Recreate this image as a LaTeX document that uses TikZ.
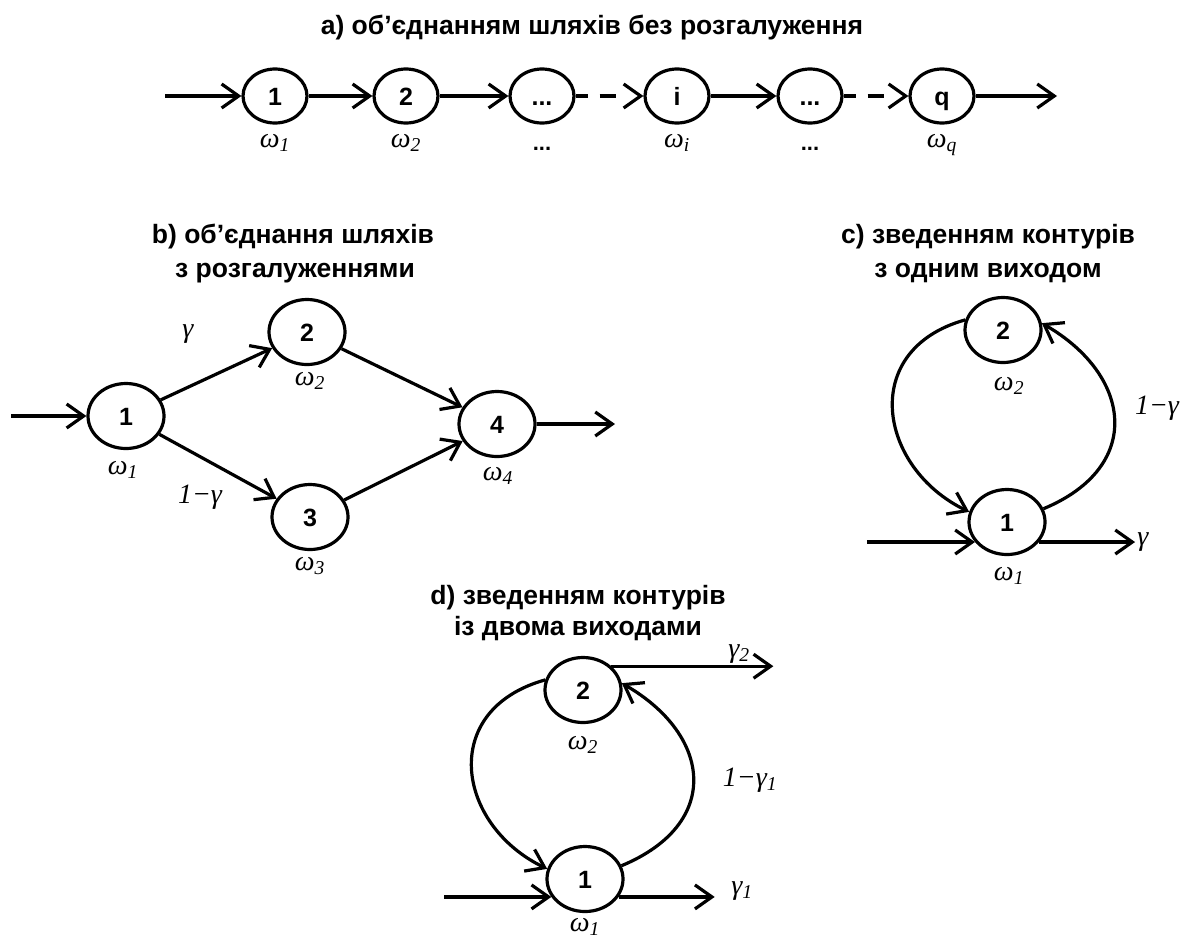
\documentclass[tikz,border=0pt]{standalone}
\usepackage{fontspec}
\setmainfont{Liberation Sans}
\newfontfamily\tms{Liberation Serif}
\usetikzlibrary{shapes.geometric,arrows.meta}
\newcommand\om[1]{ω\textsubscript{#1}}
\begin{document}
\begin{tikzpicture}[x=1pt,y=-1pt,
  nd/.style={draw, ellipse, line width=3.2pt, minimum width=76pt, minimum height=65pt, inner sep=0pt,
    text height=18pt, text depth=0pt, font=\bfseries\fontsize{25}{27}\selectfont},
  nda/.style={nd, minimum width=64pt, minimum height=54pt},
  ar/.style={line width=3.2pt, -{Straight Barb[length=17pt,width=24pt]}},
  ttl/.style={font=\bfseries\fontsize{26.5}{30}\selectfont, anchor=base, inner sep=0pt},
  lab/.style={font=\tms\itshape\fontsize{28}{30}\selectfont},
  dots/.style={font=\bfseries\fontsize{22}{24}\selectfont, anchor=base},
]
\useasboundingbox (0,0) rectangle (1185,940);

% ---------- a ----------
\node[ttl] (ta) at (592,34) {a) об'єднанням шляхів без розгалуження};
\node[nda] (a1) at (275,96) {1};
\node[nda] (a2) at (406,96) {2};
\node[nda] (a3) at (542,96) {...};
\node[nda] (a4) at (677,96) {i};
\node[nda] (a5) at (810,96) {...};
\node[nda] (a6) at (942,96) {q};
\coordinate (ain) at (165,96);
\coordinate (aout) at (1057,96);
\draw[ar] (ain) -- (a1);
\draw[ar] (a1) -- (a2);
\draw[ar] (a2) -- (a3);
\draw[ar, dash pattern=on 12pt off 12pt on 16pt off 40pt] (a3) -- (a4);
\draw[ar] (a4) -- (a5);
\draw[ar, dash pattern=on 12pt off 12pt on 16pt off 40pt] (a5) -- (a6);
\draw[ar] (a6) -- (aout);
\node[lab] (wa1) at (275,143) {\om{1}};
\node[lab] (wa2) at (406,143) {\om{2}};
\node[dots] (wa3) at (542,150) {...};
\node[lab] (wa4) at (677,143) {\om{i}};
\node[dots] (wa5) at (810,150) {...};
\node[lab] (wa6) at (942,145) {\om{q}};

% ---------- b ----------
\node[ttl] (tb) at (293,243) {b) об’єднання шляхів};
\node[ttl] (tb2) at (295,277) {з розгалуженнями};
\node[nd] (b1) at (126,416) {1};
\node[nd] (b2) at (307,332) {2};
\node[nd] (b3) at (310,517) {3};
\node[nd] (b4) at (497,424) {4};
\coordinate (bin) at (11,416);
\coordinate (bout) at (615,424);
\draw[ar] (bin) -- (b1);
\draw[ar] (b1) -- (b2);
\draw[ar] (b1) -- (b3);
\draw[ar] (b2) -- (b4);
\draw[ar] (b3) -- (b4);
\draw[ar] (b4) -- (bout);
\node[lab] (gb1) at (188,334) {γ};
\node[lab] (gb2) at (200,497) {1−γ};
\node[lab] (wb1) at (123,470) {\om{1}};
\node[lab] (wb2) at (310,381) {\om{2}};
\node[lab] (wb3) at (310,566) {\om{3}};
\node[lab] (wb4) at (498,476) {\om{4}};

% ---------- c ----------
\node[ttl] (tc) at (988,243) {c) зведенням контурів};
\node[ttl] (tc2) at (988,277) {з одним виходом};
\node[nd] (c2) at (1003,330) {2};
\node[nd] (c1) at (1007,522) {1};
\draw[ar] (c2.165) .. controls +(-107,30) and +(-91,-44) .. (c1.165);
\draw[ar] (c1.20) .. controls +(101,-42) and +(90,52) .. (c2.10);
\path (c1.212) ++(-108,0) coordinate (cin);
\path (c1.328) ++(96,0) coordinate (cout);
\draw[ar] (cin) -- (c1.212);
\draw[ar] (c1.328) -- (cout);
\node[lab, anchor=west, inner sep=2pt] (gc) at (cout) {γ};
\node[lab] (gc2) at (1157,408) {1−γ};
\node[lab] (wc2) at (1009,386) {\om{2}};
\node[lab] (wc1) at (1009,576) {\om{1}};

% ---------- d ----------
\node[ttl] (td) at (578,604) {d) зведенням контурів};
\node[ttl] (td2) at (578,635) {із двома виходами};
\node[nd] (d2) at (583,690) {2};
\node[nd] (d1) at (585,879) {1};
\draw[ar] (d2.165) .. controls +(-107,30) and +(-91,-44) .. (d1.165);
\draw[ar] (d1.20) .. controls +(101,-42) and +(90,52) .. (d2.10);
\path (d1.208) ++(-107,0) coordinate (din);
\path (d1.332) ++(96,0) coordinate (dout);
\path (d2.40) ++(162,0) coordinate (dout2);
\draw[ar] (din) -- (d1.208);
\draw[ar] (d1.332) -- (dout);
\draw[ar] (d2.40) -- (dout2);
\node[lab] (gd1) at (742,891) {γ\textsubscript{1}};
\node[lab] (gd2) at (739,654) {γ\textsubscript{2}};
\node[lab] (gd3) at (750,780) {1−γ\textsubscript{1}};
\node[lab] (wd2) at (583,745) {\om{2}};
\node[lab] (wd1) at (585,927) {\om{1}};
\end{tikzpicture}
\end{document}
